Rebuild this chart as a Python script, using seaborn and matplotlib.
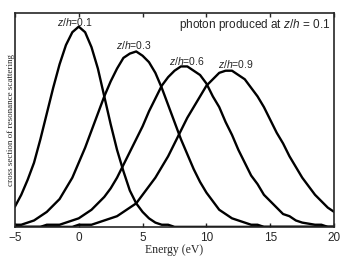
import numpy as np
import pandas as pd
import matplotlib
matplotlib.use('Agg')
import matplotlib.pyplot as plt
import seaborn as sns

# energy grid (eV)
energy = [-5.0, -4.5, -4.0, -3.5, -3.0, -2.5, -2.0, -1.5, -1.0, -0.5,
          0.0, 0.5, 1.0, 1.5, 2.0, 2.5, 3.0, 3.5, 4.0, 4.5,
          5.0, 5.5, 6.0, 6.5, 7.0, 7.5, 8.0, 8.5, 9.0, 9.5,
          10.0, 10.5, 11.0, 11.5, 12.0, 12.5, 13.0, 13.5, 14.0, 14.5,
          15.0, 15.5, 16.0, 16.5, 17.0, 17.5, 18.0, 18.5, 19.0, 19.5, 20.0]

# cross section, one list per z/h
cs_01 = [0.094, 0.15, 0.22, 0.30, 0.41, 0.53, 0.65, 0.76, 0.85, 0.91,
         0.936, 0.91, 0.84, 0.74, 0.61, 0.48, 0.36, 0.26, 0.17, 0.11,
         0.07, 0.04, 0.02, 0.01, 0.01, 0.0, 0.0, 0.0, 0.0, 0.0,
         0.0, 0.0, 0.0, 0.0, 0.0, 0.0, 0.0, 0.0, 0.0, 0.0,
         0.0, 0.0, 0.0, 0.0, 0.0, 0.0, 0.0, 0.0, 0.0, 0.0, 0.0]
cs_03 = [0.01, 0.01, 0.02, 0.03, 0.05, 0.07, 0.10, 0.13, 0.18, 0.23,
         0.30, 0.37, 0.45, 0.53, 0.61, 0.68, 0.74, 0.79, 0.81, 0.82,
         0.80, 0.77, 0.72, 0.65, 0.57, 0.49, 0.41, 0.34, 0.27, 0.21,
         0.16, 0.12, 0.08, 0.06, 0.04, 0.03, 0.02, 0.01, 0.01, 0.0,
         0.0, 0.0, 0.0, 0.0, 0.0, 0.0, 0.0, 0.0, 0.0, 0.0, 0.0]
cs_06 = [0.0, 0.0, 0.0, 0.0, 0.0, 0.01, 0.01, 0.01, 0.02, 0.03,
         0.04, 0.06, 0.08, 0.11, 0.14, 0.18, 0.23, 0.29, 0.35, 0.41,
         0.47, 0.54, 0.60, 0.66, 0.70, 0.73, 0.75, 0.75, 0.73, 0.71,
         0.67, 0.61, 0.56, 0.49, 0.43, 0.36, 0.30, 0.24, 0.20, 0.15,
         0.12, 0.09, 0.06, 0.05, 0.03, 0.02, 0.015, 0.01, 0.01, 0.0, 0.0]
cs_09 = [0.0, 0.0, 0.0, 0.0, 0.0, 0.0, 0.0, 0.0, 0.0, 0.0,
         0.01, 0.01, 0.01, 0.02, 0.03, 0.04, 0.05, 0.07, 0.09, 0.11,
         0.15, 0.19, 0.23, 0.28, 0.33, 0.39, 0.45, 0.51, 0.56, 0.61,
         0.66, 0.69, 0.72, 0.73, 0.73, 0.71, 0.69, 0.65, 0.61, 0.56,
         0.50, 0.44, 0.39, 0.33, 0.28, 0.23, 0.19, 0.15, 0.12, 0.09, 0.07]

zh_names = ['0.1', '0.3', '0.6', '0.9']
label_x = [-0.3, 4.33, 8.5, 12.3]
label_y = [0.96, 0.85, 0.776, 0.76]

df = pd.DataFrame({
    'energy': energy * 4,
    'cs': cs_01 + cs_03 + cs_06 + cs_09,
    'zh': sum([[z] * len(energy) for z in zh_names], []),
})

sns.set_style('ticks')
plt.rcParams['font.family'] = ['Liberation Sans', 'DejaVu Sans']
plt.rcParams['mathtext.fontset'] = 'custom'
plt.rcParams['mathtext.rm'] = 'Liberation Sans'
plt.rcParams['mathtext.it'] = 'Liberation Sans:italic'

fig = plt.figure(figsize=(3.54, 2.59), dpi=100)
ax = fig.add_axes([0.042, 0.124, 0.902, 0.826])

sns.lineplot(data=df, x='energy', y='cs', hue='zh', palette=['black'] * 4,
             legend=False, linewidth=1.7, ax=ax)

for name, lx, ly in zip(zh_names, label_x, label_y):
    ax.text(lx, ly, r'$\mathit{z/h}$=' + name, ha='center', va='center', fontsize=7.5)

ax.text(0.987, 0.944, r'photon produced at $\mathit{z/h}$ = 0.1', transform=ax.transAxes,
        ha='right', va='center', fontsize=8.5)

ax.set_xlim(-5, 20)
ax.set_ylim(0, 1)
ax.set_xticks([-5, 0, 5, 10, 15, 20])
ax.set_yticks([])
ax.tick_params(axis='x', direction='in', top=True, length=3, width=1, pad=4, labelsize=8.5)
for s in ax.spines.values():
    s.set_visible(True)
    s.set_linewidth(1.2)

ax.set_xlabel('Energy (eV)', family=['Liberation Serif'], fontsize=8.5, labelpad=0)
ax.set_ylabel('cross section of resonance scattering', family=['Liberation Serif'],
              fontsize=6.5, labelpad=0)

fig.savefig('out.png', dpi=100)
